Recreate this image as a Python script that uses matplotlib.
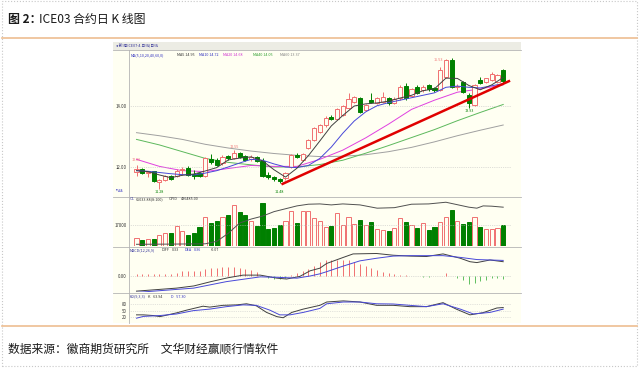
import matplotlib.pyplot as plt

plt.rcParams['font.family'] = ['Noto Sans CJK SC', 'DejaVu Sans']

# daily K-line data
opens = [11.85, 11.95, 11.82, 11.86, 11.52, 11.58, 11.72, 11.70, 11.90, 11.97,
         11.76, 11.80, 11.70, 12.25, 12.22, 12.12, 12.35, 12.28, 12.45, 12.36,
         12.25, 12.32, 12.21, 11.74, 11.66, 11.60, 11.63, 12.01, 12.39, 12.23,
         12.61, 12.88, 13.15, 13.37, 13.62, 13.56, 13.70, 13.91, 14.13, 14.24,
         13.86, 14.18, 14.10, 14.13, 14.24, 14.10, 14.24, 14.64, 14.32, 14.62,
         14.51, 14.67, 14.59, 14.51, 14.95, 15.50, 14.62, 14.78, 14.35, 14.02,
         14.84, 14.78, 14.84, 14.78, 15.16]
highs = [12.06, 11.98, 11.88, 11.88, 11.60, 11.73, 11.74, 11.92, 12.00, 12.02,
         11.90, 11.85, 12.32, 12.42, 12.30, 12.38, 12.40, 12.55, 12.50, 12.40,
         12.38, 12.36, 12.28, 11.85, 11.72, 11.65, 11.85, 12.42, 12.45, 12.46,
         12.92, 13.30, 13.40, 13.65, 13.70, 13.92, 14.02, 14.42, 14.32, 14.28,
         14.05, 14.42, 14.28, 14.44, 14.30, 14.30, 14.66, 14.75, 14.58, 14.66,
         14.66, 14.72, 14.62, 15.25, 15.53, 15.55, 14.70, 14.82, 14.40, 14.70,
         14.95, 14.92, 15.10, 15.05, 15.20]
lows = [11.70, 11.78, 11.68, 11.50, 11.28, 11.55, 11.58, 11.68, 11.75, 11.70,
        11.62, 11.66, 11.66, 12.10, 12.02, 12.08, 12.22, 12.25, 12.28, 12.20,
        12.20, 12.15, 11.68, 11.62, 11.55, 11.48, 11.58, 11.98, 12.30, 12.20,
        12.58, 12.85, 13.10, 13.32, 13.52, 13.52, 13.66, 13.88, 14.10, 13.75,
        13.82, 14.10, 14.05, 14.10, 14.02, 14.05, 14.20, 14.20, 14.28, 14.38,
        14.45, 14.48, 14.45, 14.48, 14.90, 14.58, 14.50, 14.40, 13.93, 13.98,
        14.70, 14.75, 14.80, 14.75, 14.75]
closes = [11.92, 11.82, 11.85, 11.55, 11.56, 11.70, 11.60, 11.88, 11.93, 11.74,
          11.69, 11.70, 12.30, 12.15, 12.05, 12.33, 12.30, 12.45, 12.32, 12.23,
          12.34, 12.21, 11.71, 11.68, 11.60, 11.55, 11.81, 12.39, 12.34, 12.42,
          12.88, 13.26, 13.37, 13.60, 13.58, 13.88, 13.99, 14.21, 14.27, 13.80,
          14.02, 14.13, 14.24, 14.29, 14.08, 14.22, 14.62, 14.24, 14.53, 14.42,
          14.62, 14.55, 14.51, 15.18, 15.50, 14.62, 14.65, 14.46, 14.08, 14.67,
          14.73, 14.89, 15.05, 15.00, 14.80]
volumes = [6320, 4680, 5500, 5500, 8780, 10430, 10100, 16420, 11740, 8780,
           10100, 15600, 23810, 18640, 19950, 23810, 25200, 33410, 27340, 25200,
           19950, 16420, 34730, 13710, 14530, 17240, 19950, 28160, 18310, 28160,
           28160, 22740, 20530, 15020, 15850, 26850, 17240, 23230, 17820, 21100,
           17000, 19130, 13710, 12890, 12320, 14530, 22740, 19700, 17000, 14200,
           18640, 12890, 15600, 19700, 23810, 29310, 20530, 17820, 19130, 23810,
           15020, 13710, 13710, 14200, 17000]

# moving averages
ma5_idx = list(range(0, 65, 2))
ma5 = [11.88, 11.85, 11.74, 11.65, 11.73, 11.77, 11.87, 11.98, 12.23, 12.29,
       12.33, 12.20, 11.91, 11.67, 11.96, 12.37, 12.85, 13.34, 13.68, 13.99,
       14.06, 14.09, 14.15, 14.25, 14.34, 14.49, 14.55, 14.90, 14.89, 14.66,
       14.52, 14.68, 14.92]
ma10 = [11.88, 11.86, 11.82, 11.78, 11.75, 11.74, 11.80, 11.88, 12.00, 12.13,
        12.25, 12.22, 12.10, 12.00, 11.98, 12.05, 12.28, 12.65, 13.10, 13.50,
        13.80, 14.00, 14.10, 14.18, 14.26, 14.34, 14.42, 14.60, 14.64, 14.60,
        14.58, 14.65, 14.72]
ma_slow_idx = list(range(0, 65, 4))
ma20 = [12.25, 12.02, 11.88, 11.85, 11.95, 12.05, 12.02, 12.02, 12.25, 12.55,
        12.95, 13.40, 13.88, 14.18, 14.44, 14.55, 14.68]
ma40 = [12.90, 12.72, 12.50, 12.28, 12.15, 12.07, 12.00, 12.00, 12.08, 12.22,
        12.45, 12.70, 12.96, 13.22, 13.51, 13.78, 14.04]
ma60 = [13.12, 13.02, 12.90, 12.74, 12.62, 12.52, 12.44, 12.38, 12.34, 12.35,
        12.40, 12.50, 12.64, 12.82, 13.02, 13.20, 13.37]
trend_x = [25.5, 65]
trend_y = [11.45, 14.80]

# open interest
oi_idx = [0, 6, 12, 14, 16, 18, 20, 22, 24, 28, 30, 32, 34, 36, 39, 42, 45,
          48, 51, 54, 56, 58, 59.4, 60.5, 62, 64]
oi = [399000, 399200, 399500, 402000, 410000, 420500, 424500, 427500, 432000,
      437800, 439500, 439800, 438800, 439800, 438800, 435500, 436000, 439500,
      439800, 441500, 439000, 436500, 435500, 437800, 437500, 436500]

# MACD
diff_idx = [0, 4, 7, 10, 13, 16, 18.6, 21.6, 24.5, 26.2, 28.5, 30.3, 32, 33.2,
            36.1, 37.8, 41.9, 44.8, 47.7, 50.6, 53.5, 56.5, 58.2, 59.4, 61.7, 64]
diff = [-0.35, -0.31, -0.28, -0.23, -0.13, -0.04, 0.02, 0.02, -0.05, -0.07,
        -0.01, 0.12, 0.18, 0.29, 0.43, 0.51, 0.52, 0.48, 0.46, 0.45, 0.51, 0.41,
        0.33, 0.31, 0.37, 0.33]
dea_idx = [0, 4, 10, 15.7, 21.6, 24.5, 28, 30.3, 32, 33.2, 36.1, 39, 41.9,
           44.8, 47.7, 53.5, 56.5, 59.4, 64]
dea = [-0.38, -0.34, -0.28, -0.13, -0.02, -0.03, -0.05, 0.0, 0.05, 0.10, 0.23,
       0.35, 0.41, 0.46, 0.47, 0.47, 0.43, 0.38, 0.36]
macd_hist = [0.04, 0.04, 0.04, 0.05, 0.05, 0.05, 0.05, 0.08, 0.11, 0.12,
             0.12, 0.12, 0.17, 0.18, 0.18, 0.21, 0.21, 0.21, 0.18, 0.17,
             0.14, 0.09, 0.01, -0.05, -0.06, -0.08, -0.05, 0.02, 0.06, 0.11,
             0.17, 0.23, 0.33, 0.37, 0.37, 0.37, 0.37, 0.38, 0.33, 0.27,
             0.22, 0.18, 0.14, 0.10, 0.06, 0.04, 0.03, 0.02, 0.01, -0.01,
             -0.02, -0.02, -0.01, 0.01, 0.06, 0.0, -0.04, -0.09, -0.18, -0.17,
             -0.12, -0.09, -0.05, -0.04, -0.07]

# KD
k_idx = [0, 1.2, 2.9, 4.1, 7, 8.7, 11.6, 12.8, 15.1, 17.5, 19.2, 20.9, 22.7,
         24.5, 25.6, 27.1, 29.1, 32, 33.2, 36.1, 39, 41.9, 44.8, 47.7, 50.6,
         53.5, 55.8, 58.2, 60.5, 62.9, 64]
k_line = [31, 31, 28, 23, 40, 52, 70, 66, 74, 76, 81, 72, 42, 23, 18, 42, 57,
          74, 89, 94, 89, 74, 74, 68, 68, 86, 57, 31, 41, 62, 64]
d_idx = [0, 1.2, 4.1, 7, 9.9, 12.8, 15.7, 18.6, 20.9, 23.3, 25, 26.8, 29.1, 32,
         33.2, 36.1, 39, 41.9, 44.8, 47.7, 50.6, 53.5, 56.5, 58.8, 61.7, 64]
d_line = [16, 24, 28, 35, 50, 57, 68, 76, 74, 52, 31, 31, 42, 60, 81, 89, 89,
          81, 80, 74, 68, 81, 57, 35, 42, 57]

UP = '#F07070'
DOWN = '#008000'
BG = '#FFFFF2'
W, H = 640, 369
SMALL = 2.7

fig = plt.figure(figsize=(6.4, 3.69), dpi=100)


def px_axes(x0, y0, x1, y1):
    a = fig.add_axes([x0 / W, 1 - y1 / H, (x1 - x0) / W, (y1 - y0) / H])
    a.set_facecolor('none')
    for s in a.spines.values():
        s.set_visible(False)
    a.set_xlim(-1.31, 65.36)
    a.set_xticks([])
    a.tick_params(axis='y', length=0, pad=1.5, labelsize=3.1, colors='#333333')
    return a


def fig_line(x0, y0, x1, y1, **kw):
    fig.add_artist(plt.Line2D([x0 / W, x1 / W], [1 - y0 / H, 1 - y1 / H],
                              transform=fig.transFigure, zorder=-5, **kw))


def fig_text(x, y, s, **kw):
    fig.text(x / W, 1 - y / H, s, va='center', **kw)


# frame of the report
fig.add_artist(plt.Rectangle((2 / W, 1 - 366 / H), 635 / W, 365 / H,
                             transform=fig.transFigure, fill=False,
                             edgecolor='#C8C8C8', lw=0.8, ls=':', zorder=-20))
# screenshot background
fig.add_artist(plt.Rectangle((113 / W, 1 - 323 / H), 408 / W, 281 / H,
                             transform=fig.transFigure, facecolor=BG,
                             edgecolor='none', zorder=-10))
fig.add_artist(plt.Rectangle((113 / W, 1 - 50 / H), 408 / W, 8 / H,
                             transform=fig.transFigure, facecolor='#ECECE4',
                             edgecolor='none', zorder=-9))
fig_line(2, 38, 637, 38, color='#EDBE91', lw=1.2)
fig_line(2, 325.5, 637, 325.5, color='#EDBE91', lw=1.2)
fig_text(8, 20, '图 2：', fontsize=8.6, fontweight='bold', color='#1A1A1A')
fig_text(39, 20, 'ICE03 合约日 K 线图', fontsize=8.6, color='#1A1A1A')
fig_text(8, 349, '数据来源：徽商期货研究所　文华财经赢顺行情软件', fontsize=8.5,
         color='#1A1A1A')

for yy in [50, 197, 247, 293]:
    fig_line(113, yy, 521, yy, color='#B4B4B4', lw=0.6)
fig_line(129, 50, 129, 323, color='#B4B4B4', lw=0.6)
fig_text(116, 46, '◂ 新I号ICE07-4.日线)日线', fontsize=SMALL, color='#333399')

# main price panel
ax = px_axes(129, 43, 511, 195)
ax.set_ylim(11.086, 16.046)
ax.set_yticks([12, 14])
ax.set_yticklabels(['12.00', '14.00'])
for lv in [12, 14]:
    ax.axhline(lv, color='#C0C0C0', lw=0.5, ls=':')
x = list(range(len(closes)))
for i in x:
    up = closes[i] >= opens[i]
    col = UP if up else DOWN
    lo, hi = min(opens[i], closes[i]), max(opens[i], closes[i])
    ax.vlines(i, lows[i], highs[i], color=col, lw=0.7, zorder=2)
    ax.bar(i, max(hi - lo, 0.012), bottom=lo, width=0.72,
           facecolor=BG if up else DOWN, edgecolor=col, lw=0.7, zorder=3)
ax.plot(ma_slow_idx, ma60, color='#A0A0A0', lw=0.7, zorder=1)
ax.plot(ma_slow_idx, ma40, color='#5CB85C', lw=0.7, zorder=1)
ax.plot(ma_slow_idx, ma20, color='#E040E0', lw=0.7, zorder=1)
ax.plot(ma5_idx, ma10, color='#4848D8', lw=0.7, zorder=4)
ax.plot(ma5_idx, ma5, color='#404040', lw=0.7, zorder=4)
ax.plot(trend_x, trend_y, color='#E00000', lw=1.8, zorder=5)
for (xi, yi, s, c) in [(0, 12.22, '12.06', UP), (17, 12.66, '12.55', UP),
                       (52.6, 15.50, '15.53', UP), (4, 11.17, '11.28', DOWN),
                       (25, 11.17, '11.48', DOWN), (58, 13.82, '13.93', DOWN)]:
    ax.text(xi, yi, s, fontsize=SMALL, color=c, ha='center', va='center')
legend = [(131, 'MA(5,10,20,40,60,0)', '#3030C0'), (177, 'MA5 14.95', '#333333'),
          (199, 'MA10 14.72', '#3030C0'), (223, 'MA20 14.68', '#D030D0'),
          (253, 'MA40 14.05', '#2E9E2E'), (280, 'MA60 13.37', '#808080')]
for xx, s, c in legend:
    fig_text(xx, 55, s, fontsize=SMALL, color=c)
fig_text(116, 191, '均线', fontsize=SMALL, color='#3030C0')

# volume + open interest
av = px_axes(129, 197, 511, 245.5)
av.set_ylim(0, 40000)
av.set_yticks([17000])
av.set_yticklabels(['17000'])
av.axhline(17000, color='#C0C0C0', lw=0.5, ls=':')
for i in x:
    up = closes[i] >= opens[i]
    av.bar(i, volumes[i], width=0.72, facecolor=BG if up else DOWN,
           edgecolor=UP if up else DOWN, lw=0.7)
ao = av.twinx()
ao.set_xlim(-1.31, 65.36)
ao.set_ylim(397785, 446785)
ao.axis('off')
ao.plot(oi_idx, oi, color='#505050', lw=0.7)
fig_text(130, 199.5, 'OL', fontsize=SMALL, color='#333399')
fig_text(136, 199.5, '65033.88(8:100)', fontsize=SMALL, color='#333333')
fig_text(169, 199.5, 'OPID', fontsize=SMALL, color='#333333')
fig_text(181, 199.5, '436485.00', fontsize=SMALL, color='#333333')

# MACD
am = px_axes(129, 247, 511, 292)
am.set_ylim(-0.37, 0.67)
am.set_yticks([0])
am.set_yticklabels(['0.00'])
am.axhline(0, color='#C0C0C0', lw=0.5, ls=':')
am.vlines(x, 0, macd_hist, colors=[UP if v >= 0 else '#60C060' for v in macd_hist],
          lw=0.7)
am.plot(diff_idx, diff, color='#404040', lw=0.7)
am.plot(dea_idx, dea, color='#4848D8', lw=0.7)
fig_text(130, 250, 'MACD(12,26,9)', fontsize=SMALL, color='#333399')
fig_text(162, 250, 'DIFF', fontsize=SMALL, color='#333333')
fig_text(172, 250, '0.33', fontsize=SMALL, color='#333333')
fig_text(185, 250, 'DEA', fontsize=SMALL, color='#3030C0')
fig_text(194, 250, '0.36', fontsize=SMALL, color='#3030C0')
fig_text(211, 250, '-0.07', fontsize=SMALL, color='#333333')

# KD
ak = px_axes(129, 293, 511, 322)
ak.set_ylim(-1.2, 129.6)
ak.set_yticks([20, 50, 80])
ak.set_yticklabels(['20', '50', '80'])
for lv in [20, 50, 80]:
    ak.axhline(lv, color='#C8C8C8', lw=0.5, ls=':')
ak.plot(k_idx, k_line, color='#404040', lw=0.7)
ak.plot(d_idx, d_line, color='#4848D8', lw=0.7)
fig_text(130, 296.5, 'KD(9,3,3)', fontsize=SMALL, color='#333399')
fig_text(148, 296.5, 'K   63.94', fontsize=SMALL, color='#333333')
fig_text(171, 296.5, 'D   57.30', fontsize=SMALL, color='#3030C0')

fig.savefig('out.png', dpi=100, facecolor='white')
